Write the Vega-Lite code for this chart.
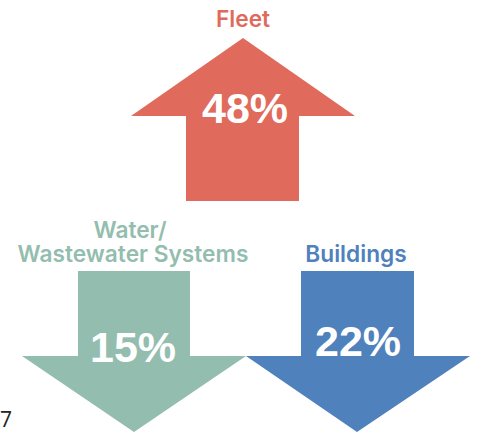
{"$schema":"https://vega.github.io/schema/vega-lite/v6.json","width":477,"height":432,"autosize":"none","padding":0,"background":"white","config":{"view":{"stroke":null}},
"datasets":{"arrows":[
{"sector":"Fleet","i":1,"px":243,"py":38},{"sector":"Fleet","i":2,"px":355,"py":116},{"sector":"Fleet","i":3,"px":299,"py":116},{"sector":"Fleet","i":4,"px":299,"py":201},{"sector":"Fleet","i":5,"px":186,"py":201},{"sector":"Fleet","i":6,"px":186,"py":116},{"sector":"Fleet","i":7,"px":131,"py":116},{"sector":"Fleet","i":8,"px":243,"py":38},
{"sector":"Water","i":1,"px":78,"py":271},{"sector":"Water","i":2,"px":190,"py":271},{"sector":"Water","i":3,"px":190,"py":356},{"sector":"Water","i":4,"px":246,"py":356},{"sector":"Water","i":5,"px":134,"py":432},{"sector":"Water","i":6,"px":22,"py":356},{"sector":"Water","i":7,"px":78,"py":356},{"sector":"Water","i":8,"px":78,"py":271},
{"sector":"Buildings","i":1,"px":301,"py":271},{"sector":"Buildings","i":2,"px":414,"py":271},{"sector":"Buildings","i":3,"px":414,"py":356},{"sector":"Buildings","i":4,"px":470,"py":356},{"sector":"Buildings","i":5,"px":357,"py":432},{"sector":"Buildings","i":6,"px":246,"py":356},{"sector":"Buildings","i":7,"px":301,"py":356},{"sector":"Buildings","i":8,"px":301,"py":271}],
"labels":[{"sector":"Fleet","label":"Fleet","px":243,"py":27},{"sector":"Water","label":"Water/","px":130,"py":238},{"sector":"Water","label":"Wastewater Systems","px":133,"py":262},{"sector":"Buildings","label":"Buildings","px":356,"py":262}],
"shares":[{"share":"48%","px":245,"py":123},{"share":"15%","px":133,"py":362},{"share":"22%","px":358,"py":356}],
"stray":[{"label":"7","px":0,"py":427}]},
"layer":[
{"data":{"name":"arrows"},"mark":{"type":"line","filled":true,"strokeWidth":0},"encoding":{"x":{"field":"px","type":"quantitative","scale":{"domain":[0,477],"nice":false,"zero":false},"axis":null},"y":{"field":"py","type":"quantitative","scale":{"domain":[432,0],"nice":false,"zero":false},"axis":null},"order":{"field":"i"},"detail":{"field":"sector"},"fill":{"field":"sector","type":"nominal","scale":{"domain":["Fleet","Water","Buildings"],"range":["#e06b5d","#93bdae","#4f81bd"]},"legend":null}}},
{"data":{"name":"labels"},"mark":{"type":"text","font":"Inter","fontWeight":600,"fontSize":22.7,"align":"center","baseline":"alphabetic"},"encoding":{"x":{"field":"px","type":"quantitative"},"y":{"field":"py","type":"quantitative"},"text":{"field":"label"},"color":{"field":"sector","type":"nominal","scale":{"domain":["Fleet","Water","Buildings"],"range":["#e06b5d","#93bdae","#4f81bd"]},"legend":null}}},
{"data":{"name":"shares"},"mark":{"type":"text","font":"Liberation Sans","fontWeight":"bold","fontSize":43,"align":"center","baseline":"alphabetic","color":"white"},"encoding":{"x":{"field":"px","type":"quantitative"},"y":{"field":"py","type":"quantitative"},"text":{"field":"share"}}},
{"data":{"name":"stray"},"mark":{"type":"text","font":"Open Sans","fontSize":21,"align":"left","baseline":"alphabetic","color":"#222222"},"encoding":{"x":{"field":"px","type":"quantitative"},"y":{"field":"py","type":"quantitative"},"text":{"field":"label"}}}
]}
